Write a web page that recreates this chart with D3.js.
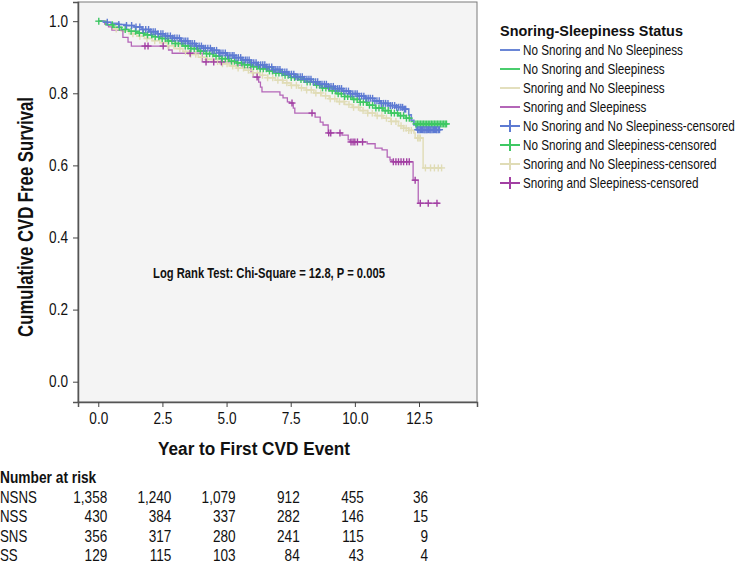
<!DOCTYPE html>
<html><head><meta charset="utf-8">
<script src="https://cdn.jsdelivr.net/npm/d3@7"></script>
<style>body{margin:0;background:#fff}svg{display:block}</style>
</head><body>
<svg id="c" width="739" height="564"></svg>
<script>
// ---- data ----
const groupNames = ["No Snoring and No Sleepiness","No Snoring and Sleepiness","Snoring and No Sleepiness","Snoring and Sleepiness"];
const groupCodes = ["NSNS","NSS","SNS","SS"];
const groupColors = ["#5d7ad2","#3ec863","#e0dcb6","#a23fa3"];
const lineColors = ["#6a86d6","#4acd6d","#e3dfbd","#b466b8"];

// step points [time, survival]
const stepsNSNS = [[0,1],[0.2,0.997],[0.5,0.994],[0.8,0.991],[1.1,0.988],[1.4,0.984],[1.7,0.977],[2.0,0.971],[2.3,0.965],[2.6,0.959],[2.9,0.953],[3.2,0.945],[3.5,0.938],[3.8,0.931],[4.1,0.925],[4.4,0.919],[4.7,0.912],[5.0,0.905],[5.3,0.899],[5.6,0.892],[5.9,0.885],[6.2,0.879],[6.5,0.873],[6.8,0.866],[7.1,0.859],[7.4,0.853],[7.7,0.846],[8.0,0.839],[8.3,0.832],[8.6,0.825],[8.9,0.819],[9.2,0.813],[9.5,0.806],[9.8,0.799],[10.1,0.792],[10.4,0.786],[10.7,0.779],[11.0,0.772],[11.3,0.766],[11.6,0.761],[11.9,0.756],[12.1,0.740],[12.2,0.725],[12.3,0.712],[12.4,0.699]];
const endNSNS = 13.35;
const stepsNSS = [[0,1],[0.3,0.99],[0.6,0.983],[0.9,0.977],[1.2,0.972],[1.5,0.967],[1.8,0.962],[2.1,0.957],[2.4,0.952],[2.7,0.945],[3.0,0.938],[3.3,0.931],[3.6,0.924],[3.9,0.917],[4.2,0.910],[4.5,0.903],[4.8,0.896],[5.1,0.889],[5.4,0.884],[5.7,0.879],[6.0,0.874],[6.3,0.868],[6.6,0.862],[6.9,0.856],[7.2,0.850],[7.5,0.844],[7.8,0.838],[8.1,0.831],[8.4,0.823],[8.7,0.815],[9.0,0.807],[9.3,0.799],[9.6,0.791],[9.9,0.783],[10.2,0.775],[10.5,0.767],[10.8,0.759],[11.1,0.752],[11.4,0.745],[11.7,0.738],[12.0,0.731],[12.2,0.722],[12.3,0.715]];
const endNSS = 13.6;
const stepsSNS = [[0,1],[0.3,0.99],[0.6,0.978],[0.9,0.972],[1.2,0.965],[1.5,0.958],[1.8,0.952],[2.1,0.946],[2.4,0.94],[2.7,0.932],[3.0,0.924],[3.3,0.916],[3.6,0.908],[3.9,0.9],[4.2,0.894],[4.5,0.888],[4.8,0.882],[5.1,0.876],[5.4,0.870],[5.7,0.864],[6.0,0.857],[6.3,0.850],[6.6,0.843],[6.9,0.836],[7.2,0.829],[7.5,0.822],[7.8,0.815],[8.1,0.809],[8.4,0.801],[8.7,0.793],[9.0,0.785],[9.3,0.777],[9.6,0.769],[9.9,0.761],[10.2,0.752],[10.5,0.745],[10.8,0.738],[11.1,0.731],[11.4,0.722],[11.7,0.710],[11.9,0.703],[12.1,0.697],[12.3,0.690],[12.35,0.676],[12.66,0.593]];
const endSNS = 13.4;
const stepsSS = [[0,1],[0.25,0.992],[0.4,0.984],[0.53,0.975],[0.96,0.955],[1.16,0.942],[1.29,0.931],[2.74,0.920],[2.88,0.911],[4.05,0.887],[5.41,0.878],[5.64,0.871],[5.95,0.858],[6.03,0.845],[6.25,0.831],[6.32,0.817],[6.38,0.804],[7.08,0.795],[7.2,0.787],[7.37,0.776],[7.47,0.773],[7.6,0.759],[7.66,0.745],[8.45,0.734],[8.65,0.72],[8.76,0.712],[8.96,0.69],[9.5,0.684],[9.74,0.671],[9.82,0.665],[10.48,0.66],[10.79,0.648],[11.06,0.643],[11.26,0.623],[11.37,0.615],[11.45,0.61],[12.27,0.559],[12.47,0.495]];
const endSS = 13.3;

// censored times
const censNSNS = [0.35,0.8,1.1,1.3,1.47,1.62,1.74,1.85,1.96,2.05,2.14,2.22,2.33,2.44,2.52,2.63,2.71,2.81,2.9,2.98,3.07,3.16,3.25,3.34,3.41,3.49,3.58,3.66,3.75,3.83,3.93,4.02,4.1,4.18,4.27,4.37,4.44,4.52,4.61,4.71,4.78,4.86,4.95,5.04,5.13,5.22,5.29,5.37,5.46,5.55,5.64,5.73,5.8,5.88,5.97,6.06,6.15,6.24,6.33,6.41,6.49,6.57,6.66,6.76,6.84,6.92,7.0,7.08,7.18,7.27,7.35,7.43,7.53,7.62,7.7,7.78,7.87,7.95,8.04,8.13,8.21,8.29,8.38,8.47,8.55,8.64,8.72,8.81,8.89,8.97,9.07,9.16,9.24,9.33,9.4,9.48,9.57,9.66,9.75,9.83,9.92,10.01,10.09,10.17,10.26,10.35,10.43,10.52,10.6,10.69,10.78,10.86,10.95,11.03,11.12,11.2,11.29,11.38,11.46,11.55,11.63,11.71,11.79,11.86,11.93,11.98,12.45,12.5,12.55,12.6,12.64,12.69,12.73,12.78,12.82,12.87,12.92,12.96,13.01,13.06,13.1,13.15,13.19,13.25,13.3];
const censNSS = [0.02,0.55,0.82,1.05,1.28,1.45,1.6,1.76,1.92,2.08,2.22,2.36,2.49,2.61,2.74,2.87,3.0,3.12,3.26,3.39,3.5,3.61,3.74,3.86,3.98,4.11,4.22,4.34,4.47,4.59,4.71,4.83,4.95,5.07,5.19,5.31,5.44,5.58,5.7,5.82,5.93,6.05,6.18,6.31,6.43,6.55,6.67,6.79,6.92,7.04,7.16,7.28,7.4,7.52,7.65,7.77,7.9,8.02,8.14,8.26,8.39,8.51,8.62,8.74,8.87,8.99,9.12,9.24,9.35,9.47,9.6,9.72,9.84,9.96,10.09,10.21,10.33,10.45,10.57,10.69,10.82,10.94,11.06,11.18,11.3,11.42,11.54,11.66,11.78,11.9,12.01,12.12,12.38,12.44,12.5,12.56,12.62,12.68,12.74,12.8,12.86,12.92,12.98,13.04,13.1,13.16,13.22,13.28,13.34,13.4,13.46,13.52,13.57];
const censSNS = [0.7,1.35,1.62,1.9,2.2,2.5,2.72,2.95,3.18,3.4,3.6,3.8,4.02,4.25,4.45,4.65,4.84,5.02,5.24,5.45,5.66,5.85,6.02,6.2,6.4,6.6,6.8,7.0,7.18,7.35,7.53,7.72,7.92,8.12,8.3,8.48,8.67,8.86,9.04,9.22,9.4,9.58,9.77,9.95,10.14,10.32,10.5,10.68,10.87,11.05,11.23,11.42,11.6,11.8,11.9,12.0,12.1,12.2,12.45,12.5,12.55,12.75,12.95,13.1,13.25,13.38];
const censSS = [1.82,1.94,2.53,3.58,4.2,4.5,4.8,6.19,7.55,8.33,8.98,9.06,9.42,9.85,9.93,10.0,10.1,10.3,11.5,11.6,11.7,11.8,11.9,12.02,12.12,12.35,12.55,12.86,13.2];

const riskTimes = [0,2.5,5,7.5,10,12.5];
const riskNSNS = ["1,358","1,240","1,079","912","455","36"];
const riskNSS = ["430","384","337","282","146","15"];
const riskSNS = ["356","317","280","241","115","9"];
const riskSS = ["129","115","103","84","43","4"];

const xTicks = [0,2.5,5,7.5,10,12.5];
const yTicks = [0,0.2,0.4,0.6,0.8,1.0];

const groups = [
  {steps: stepsNSNS, end: endNSNS, cens: censNSNS, risk: riskNSNS},
  {steps: stepsNSS, end: endNSS, cens: censNSS, risk: riskNSS},
  {steps: stepsSNS, end: endSNS, cens: censSNS, risk: riskSNS},
  {steps: stepsSS, end: endSS, cens: censSS, risk: riskSS}
];

// ---- layout ----
const FN = "'Liberation Sans',Arial,sans-serif";
const svg = d3.select("#c");
const L = 78, R = 477, T = 2, B = 402;
const x = d3.scaleLinear().domain([-0.79, 14.76]).range([L, R]);
const y = d3.scaleLinear().domain([-0.0563, 1.0532]).range([B, T]);

// condensed text helper
function addText(parent, o) {
  const g = parent.append("g").attr("transform", `translate(${o.x},${o.y})` + (o.rotate ? ` rotate(${o.rotate})` : ""));
  const t = g.append("text").attr("x", 0).attr("y", 0)
    .attr("text-anchor", o.anchor || "start")
    .attr("font-family", FN).attr("font-size", o.size)
    .attr("font-weight", o.bold ? "bold" : "normal").attr("fill", "#111").text(o.text);
  let sx = o.sx || 0.85;
  if (o.width) sx = o.width / t.node().getComputedTextLength();
  t.attr("transform", `scale(${sx},1)`);
  return {t, sx};
}

svg.append("rect").attr("x", L).attr("y", T).attr("width", R - L).attr("height", B - T)
  .attr("fill", "#f4f4f4").attr("stroke", "#7a7a7a").attr("stroke-width", 1);

// axes
const TS = 0.85;
const yAxis = svg.append("g").attr("transform", `translate(${L},0)`)
  .call(d3.axisLeft(y).tickValues(yTicks).tickFormat(d3.format(".1f")).tickSize(5).tickPadding(5));
const xAxis = svg.append("g").attr("transform", `translate(0,${B})`)
  .call(d3.axisBottom(x).tickValues(xTicks).tickFormat(d3.format(".1f")).tickSize(5).tickPadding(6));
[yAxis, xAxis].forEach(a => {
  a.select(".domain").attr("stroke", "#555").attr("stroke-width", 1.5);
  a.selectAll(".tick line").attr("stroke", "#444");
  a.selectAll("text").attr("font-family", FN).attr("font-size", 16).attr("fill", "#111")
    .attr("transform", `scale(${TS},1)`);
});
yAxis.selectAll("text").attr("x", -10 / TS);

// curves
function stepPath(steps, end) {
  const pts = [];
  steps.forEach((p, i) => {
    if (i > 0) pts.push([p[0], steps[i - 1][1]]);
    pts.push(p);
  });
  pts.push([end, steps[steps.length - 1][1]]);
  return pts;
}
function survAt(steps, t) {
  let s = 1;
  for (const p of steps) { if (p[0] <= t) s = p[1]; else break; }
  return s;
}
const line = d3.line().x(d => x(d[0])).y(d => y(d[1]));
const plot = svg.append("g");
const drawOrder = [2, 3, 1, 0];
drawOrder.forEach(gi => {
  const g = groups[gi];
  plot.append("path").attr("d", line(stepPath(g.steps, g.end)))
    .attr("fill", "none").attr("stroke", lineColors[gi]).attr("stroke-width", gi === 3 ? 1.3 : 1.6);
});
drawOrder.forEach(gi => {
  const g = groups[gi];
  const cg = plot.append("g").attr("stroke", groupColors[gi]).attr("stroke-width", 1.4);
  g.cens.forEach(t => {
    const cx = x(t), cy = y(survAt(g.steps, t));
    cg.append("line").attr("x1", cx - 3.5).attr("x2", cx + 3.5).attr("y1", cy).attr("y2", cy);
    cg.append("line").attr("x1", cx).attr("x2", cx).attr("y1", cy - 3.5).attr("y2", cy + 3.5);
  });
});

// annotation
addText(svg, {x: 269, y: 278, anchor: "middle", size: 14, bold: true, width: 232,
  text: "Log Rank Test: Chi-Square = 12.8, P = 0.005"});

// axis titles
addText(svg, {x: 254, y: 455, anchor: "middle", size: 19, bold: true, width: 192, text: "Year to First CVD Event"});
addText(svg, {x: 33, y: 217, rotate: -90, anchor: "middle", size: 22, bold: true, width: 240, text: "Cumulative CVD Free Survival"});

// legend
const lg = svg.append("g").attr("transform", "translate(500,0)");
addText(lg, {x: 0, y: 36, size: 15, bold: true, width: 183, text: "Snoring-Sleepiness Status"});
const legendItems = [];
groupNames.forEach((n, i) => legendItems.push({label: n, gi: i, cens: false}));
groupNames.forEach((n, i) => legendItems.push({label: n + "-censored", gi: i, cens: true}));
// scale so that the longest label fits the reference width
const probe = addText(lg, {x: 23, y: -100, size: 15, width: 212, text: legendItems[4].label});
const LS = probe.sx;
probe.t.remove();
legendItems.forEach((it, k) => {
  const cy = 50 + k * 19;
  lg.append("line").attr("x1", 0).attr("x2", 20).attr("y1", cy).attr("y2", cy)
    .attr("stroke", it.cens ? groupColors[it.gi] : lineColors[it.gi]).attr("stroke-width", 2);
  if (it.cens) lg.append("line").attr("x1", 10).attr("x2", 10).attr("y1", cy - 6).attr("y2", cy + 6)
    .attr("stroke", groupColors[it.gi]).attr("stroke-width", 2);
  addText(lg, {x: 23, y: cy + 5, size: 15, sx: LS, text: it.label});
});

// number at risk
addText(svg, {x: 0, y: 483, size: 16, bold: true, sx: 0.86, text: "Number at risk"});
groups.forEach((g, i) => {
  const by = 503 + i * 19.3;
  addText(svg, {x: 0, y: by, size: 16, sx: 0.83, text: groupCodes[i]});
  g.risk.forEach((v, j) => {
    addText(svg, {x: x(riskTimes[j]) + 9, y: by, anchor: "end", size: 16, sx: 0.85, text: v});
  });
});
</script>
</body></html>
